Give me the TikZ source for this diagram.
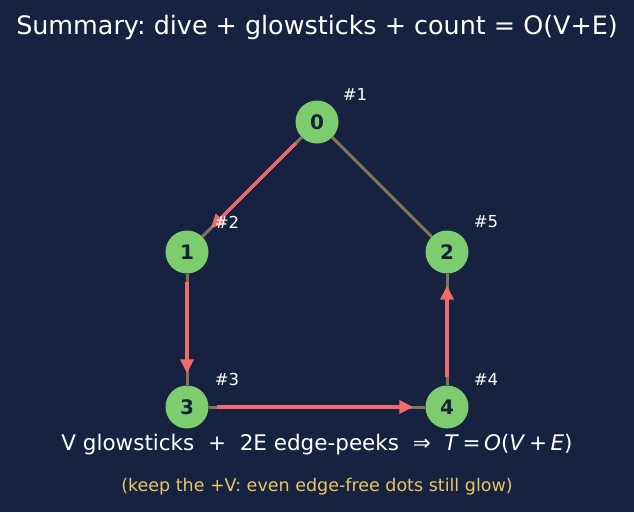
\documentclass[tikz,border=0pt]{standalone}
\usepackage{fontspec}
\setmainfont{DejaVu Sans}
\usetikzlibrary{arrows.meta}
\frenchspacing
\definecolor{bg}{RGB}{23,33,64}
\definecolor{nodegreen}{RGB}{125,205,110}
\definecolor{nodetext}{RGB}{20,35,55}
\definecolor{edgered}{RGB}{240,108,108}
\definecolor{edgegray}{RGB}{128,117,92}
\definecolor{noteyellow}{RGB}{232,200,100}
\tikzset{
  vertex/.style={circle,fill=nodegreen,minimum size=43pt,inner sep=0pt,text=nodetext,font=\fontsize{20}{22}\selectfont\bfseries},
  base/.style={draw=edgegray,line width=3pt},
  tree/.style={draw=edgered,line width=3.5pt,-{Triangle[length=14pt,width=13pt]},shorten <=8pt,shorten >=12pt},
  order/.style={text=white,font=\fontsize{16.5}{19}\selectfont},
}
\begin{document}
\begin{tikzpicture}[x=1pt,y=-1pt]
\fill[bg] (0,0) rectangle (634,512);
\useasboundingbox (0,0) rectangle (634,512);
\node[text=white,font=\fontsize{25.4}{30}\selectfont] (title) at (317,27) {Summary: dive + glowsticks + count = O(V+E)};
\node[vertex] (n0) at (317,122) {0};
\node[vertex] (n1) at (187,252) {1};
\node[vertex] (n2) at (447,252) {2};
\node[vertex] (n3) at (187,407) {3};
\node[vertex] (n4) at (447,407) {4};
\draw[base] (n0) -- (n1);
\draw[base] (n0) -- (n2);
\draw[base] (n1) -- (n3);
\draw[base] (n3) -- (n4);
\draw[base] (n4) -- (n2);
\draw[tree] (n0) -- (n1);
\draw[tree] (n1) -- (n3);
\draw[tree] (n3) -- (n4);
\draw[tree] (n4) -- (n2);
\node[order] (o1) at (355,94) {\#1};
\node[order] (o2) at (227,222) {\#2};
\node[order] (o3) at (227,379) {\#3};
\node[order] (o4) at (486,379) {\#4};
\node[order] (o5) at (486,222) {\#5};
\node[text=white,font=\fontsize{21.5}{25}\selectfont] (formula) at (317,445) {V glowsticks \ + \ 2E edge-peeks \ ⇒ \ \textit{T}\,=\,\textit{O}(\textit{V}\,+\,\textit{E})};
\node[text=noteyellow,font=\fontsize{17.5}{21}\selectfont] (note) at (317,487) {(keep the +V: even edge-free dots still glow)};
\end{tikzpicture}
\end{document}
